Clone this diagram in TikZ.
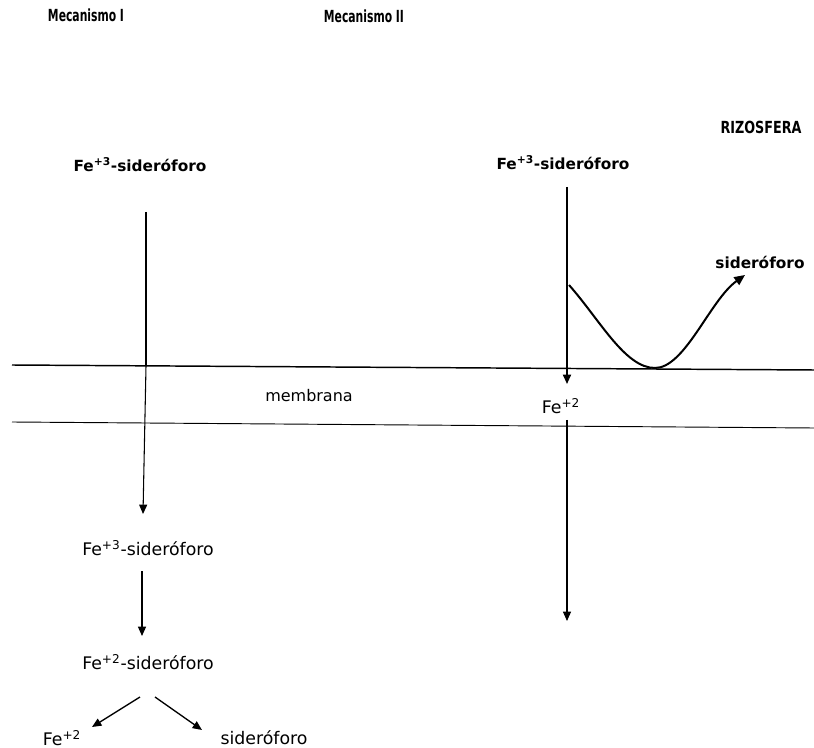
\documentclass[tikz,border=0pt]{standalone}
\usepackage{fontspec}
\setmainfont{DejaVu Sans}
\newfontfamily\condb{DejaVu Sans Condensed Bold}
\usetikzlibrary{arrows.meta}
\newcommand\narrowtitle[2]{\scalebox{#1}[1]{\fontsize{12.5}{14}\condb #2}}
\begin{document}
\begin{tikzpicture}[x=0.75pt,y=-0.75pt,
  lbl/.style={inner sep=0pt,font=\fontsize{13}{15}\selectfont},
  blbl/.style={inner sep=0pt,font=\fontsize{11.5}{14}\selectfont\bfseries},
  tlbl/.style={inner sep=0pt},
  arr/.style={line width=1pt,-{Triangle[length=7pt,width=6pt]}},
  memb/.style={line width=1.1pt}]
\useasboundingbox (0,0) rectangle (814,748);
% titles
\node[tlbl] (m1) at (86,15) {\narrowtitle{0.72}{Mecanismo I}};
\node[tlbl] (m2) at (364,16) {\narrowtitle{0.72}{Mecanismo II}};
\node[tlbl] (riz) at (761,127) {\narrowtitle{0.85}{RIZOSFERA}};
% left mechanism
\node[blbl] (f3a) at (140,165) {Fe\textsuperscript{+3}-sideróforo};
\coordinate (la) at (146,212);
\coordinate (lm) at (146,366);
\coordinate (le) at (143,514);
\node[lbl] (f3b) at (148,548) {Fe\textsuperscript{+3}-sideróforo};
\node[lbl] (f2s) at (148,662) {Fe\textsuperscript{+2}-sideróforo};
\node[lbl] (fe2a) at (62,738) {Fe\textsuperscript{+2}};
\node[lbl] (sid2) at (264,738) {sideróforo};
\draw[line width=1.4pt] (la) -- (lm);
\draw[arr,line width=0.8pt] (lm) -- (le);
% right mechanism
\node[blbl] (f3r) at (563,163) {Fe\textsuperscript{+3}-sideróforo};
\node[blbl] (sidr) at (760,262) {sideróforo};
\coordinate (rtop) at (567,187);
\coordinate (rbot) at (567,384);
\draw[arr,line width=1.3pt] (rtop) -- (rbot);
\coordinate (cs) at (569,285);
\coordinate (cm) at (655,368);
\coordinate (ce) at (745,275);
\draw[line width=1.5pt,-{Triangle[length=8pt,width=7pt]}] (cs) .. controls (600,320) and (625,368) .. (cm) .. controls (685,368) and (710,300) .. (ce);
\node[lbl] (fe2r) at (561,406) {Fe\textsuperscript{+2}};
\coordinate (rl) at (567,420);
\coordinate (rle) at (567,621);
\draw[arr,line width=0.8pt] (rl) -- (rle);
% membrane
\node[lbl,font=\fontsize{12}{14}\selectfont] (mem) at (309,396) {membrana};
\draw[memb] (12,365) -- (814,370);
\draw[line width=0.7pt] (12,422) -- (814,428);
% lower left arrows
\coordinate (a1) at (142,571);
\coordinate (a2) at (142,636);
\draw[arr] (a1) -- (a2);
\coordinate (b1) at (140,697);
\coordinate (b2) at (92,727);
\coordinate (c1) at (155,697);
\coordinate (c2) at (202,730);
\draw[arr] (b1) -- (b2);
\draw[arr] (c1) -- (c2);
\end{tikzpicture}
\end{document}
